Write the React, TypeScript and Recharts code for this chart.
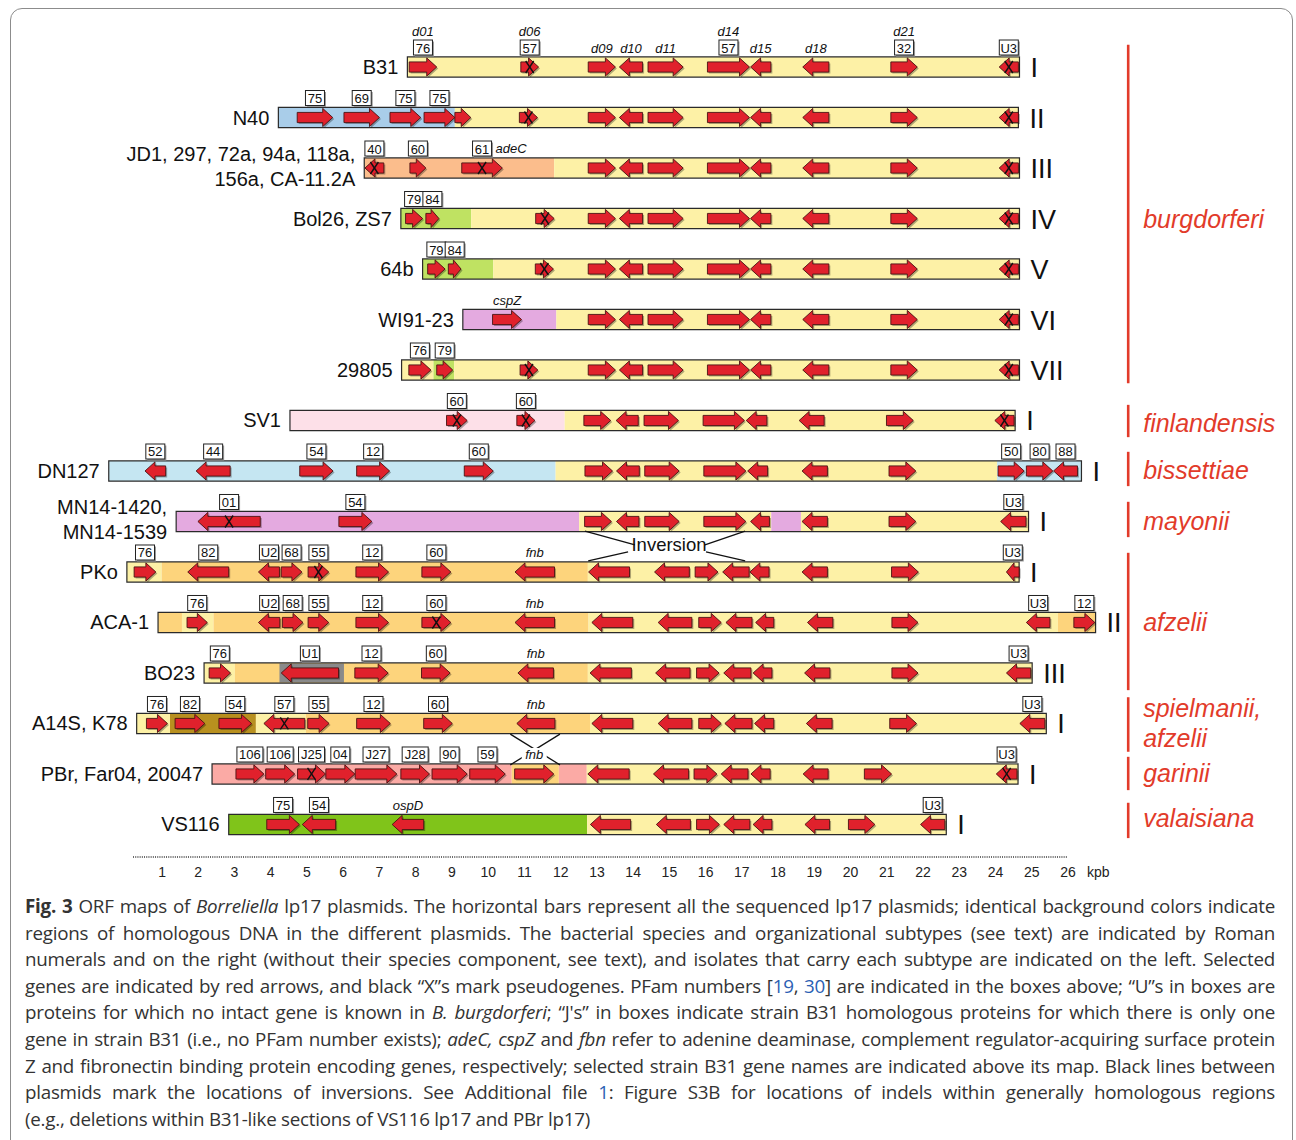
import React from "react";
import { ComposedChart, XAxis, YAxis, ReferenceArea, ReferenceLine, Scatter } from "recharts";

// shared kbp axis, all plasmids aligned on their B31-like region
const X_MIN = -3.471;
const X_MAX = 32.29;
const Y_MIN = -1.327;
const Y_MAX = 15.644;

const FONT = "'Liberation Sans', Arial, sans-serif";
const NARROW = "'Liberation Sans Narrow', 'Liberation Sans', Arial, sans-serif";

const strains = [
  ["B31"],
  ["N40"],
  ["JD1, 297, 72a, 94a, 118a,", "156a, CA-11.2A"],
  ["Bol26, ZS7"],
  ["64b"],
  ["WI91-23"],
  ["29805"],
  ["SV1"],
  ["DN127"],
  ["MN14-1420,", "MN14-1539"],
  ["PKo"],
  ["ACA-1"],
  ["BO23"],
  ["A14S, K78"],
  ["PBr, Far04, 20047"],
  ["VS116"],
];
const subtypes = ["I", "II", "III", "IV", "V", "VI", "VII", "I", "I", "I", "I", "II", "III", "I", "I", "I"];
const plasmidStart = [7.77, 4.21, 6.58, 7.59, 8.19, 9.3, 7.61, 4.53, -0.47, 1.39, 0.03, 0.89, 2.16, 0.3, 2.38, 2.84];
const plasmidEnd = [24.66, 24.63, 24.66, 24.66, 24.66, 24.66, 24.66, 24.54, 26.37, 24.91, 24.65, 26.76, 25.01, 25.4, 24.62, 22.64];

const regionColors: Record<string, string> = {
  b31: "#fdf1a6",
  n40: "#a9cde9",
  jd1: "#fbbd8c",
  bol: "#bfe262",
  wi: "#e4aae0",
  sv1: "#fde0e8",
  dn: "#c5e6f2",
  afz: "#fdd47c",
  gold: "#b8901f",
  pbr: "#fbaaa5",
  vs: "#80c41a",
  grey: "#8a8a8a",
};

// background regions per plasmid: [start, end, region]
const segments: [number, number, string][][] = [
  [[7.77, 24.66, "b31"]],
  [[4.21, 9.08, "n40"], [9.08, 24.63, "b31"]],
  [[6.58, 11.82, "jd1"], [11.82, 24.66, "b31"]],
  [[7.59, 9.53, "bol"], [9.53, 24.66, "b31"]],
  [[8.19, 10.14, "bol"], [10.14, 24.66, "b31"]],
  [[9.3, 11.88, "wi"], [11.88, 24.66, "b31"]],
  [[7.61, 8.49, "b31"], [8.49, 9.06, "bol"], [9.06, 24.66, "b31"]],
  [[4.53, 12.11, "sv1"], [12.11, 24.54, "b31"]],
  [[-0.47, 11.86, "dn"], [11.86, 24.04, "b31"], [24.04, 26.37, "dn"]],
  [[1.39, 12.51, "wi"], [12.51, 17.81, "b31"], [17.81, 18.63, "wi"], [18.63, 24.91, "b31"]],
  [[0.03, 0.99, "b31"], [0.99, 12.75, "afz"], [12.75, 24.65, "b31"]],
  [[0.89, 1.55, "afz"], [1.55, 2.42, "b31"], [2.42, 12.77, "afz"], [12.77, 25.72, "b31"], [25.72, 26.76, "afz"]],
  [[2.16, 3.01, "b31"], [3.01, 12.75, "afz"], [4.24, 6.02, "grey"], [12.75, 25.01, "b31"]],
  [[0.3, 1.22, "b31"], [1.22, 3.59, "gold"], [3.59, 4.97, "b31"], [4.97, 12.81, "afz"], [12.81, 25.4, "b31"]],
  [[2.38, 10.65, "pbr"], [10.65, 11.95, "afz"], [11.95, 12.72, "pbr"], [12.72, 24.62, "b31"]],
  [[2.84, 12.73, "vs"], [12.73, 22.64, "b31"]],
];

// genes: [start, end, strand, PFam box, pseudogene, gene name, name beside box]
type Gene = [number, number, string, string?, boolean?, string?, boolean?];

const burgCore: Gene[] = [
  [12.76, 13.51, "R"], [13.62, 14.26, "L"], [14.41, 15.38, "R"], [16.05, 17.21, "R"],
  [17.24, 17.8, "L"], [18.68, 19.4, "L"], [21.11, 21.84, "R"], [24.1, 24.63, "L", "", true],
];
const genesB31: Gene[] = [
  [7.82, 8.58, "R", "76", false, "d01"], [10.9, 11.39, "R", "57", true, "d06"],
  [12.76, 13.51, "R", "", false, "d09"], [13.62, 14.26, "L", "", false, "d10"],
  [14.41, 15.38, "R", "", false, "d11"], [16.05, 17.21, "R", "57", false, "d14"],
  [17.24, 17.8, "L", "", false, "d15"], [18.68, 19.4, "L", "", false, "d18"],
  [21.11, 21.84, "R", "32", false, "d21"], [24.1, 24.63, "L", "U3", true],
];
const genesN40: Gene[] = [
  [4.73, 5.71, "R", "75"], [6.02, 7.0, "R", "69"], [7.29, 8.14, "R", "75"], [8.23, 9.08, "R", "75"],
  [9.08, 9.52, "R"], [10.86, 11.36, "R", "", true], ...burgCore,
];
const genesJD1: Gene[] = [
  [6.6, 7.12, "L", "40", true], [7.84, 8.28, "R", "60"], [9.27, 10.39, "R", "61", true, "adeC", true], ...burgCore,
];
const genesBol26: Gene[] = [[7.72, 8.19, "R", "79"], [8.28, 8.64, "R", "84"], [11.31, 11.82, "R", "", true], ...burgCore];
const genes64b: Gene[] = [[8.33, 8.81, "R", "79"], [8.9, 9.25, "R", "84"], [11.3, 11.8, "R", "", true], ...burgCore];
const genesWI91: Gene[] = [[10.12, 10.92, "R", "", false, "cspZ"], ...burgCore];
const genes29805: Gene[] = [[7.81, 8.42, "R", "76"], [8.58, 9.02, "R", "79"], [10.88, 11.37, "R", "", true], ...burgCore];
const genesSV1: Gene[] = [
  [8.85, 9.42, "R", "60", true], [10.79, 11.29, "R", "60", true], [12.64, 13.38, "R"], [13.53, 14.14, "L"],
  [14.3, 15.25, "R"], [15.93, 17.07, "R"], [17.12, 17.69, "L"], [18.58, 19.27, "L"], [20.99, 21.73, "R"],
  [23.98, 24.51, "L", "", true],
];
const genesDN127: Gene[] = [
  [0.53, 1.1, "L", "52"], [1.94, 2.88, "L", "44"], [4.8, 5.72, "R", "54"], [6.37, 7.28, "R", "12"],
  [9.34, 10.14, "R", "60"], [12.67, 13.43, "R"], [13.54, 14.17, "L"], [14.32, 15.27, "R"], [15.95, 17.11, "R"],
  [17.16, 17.71, "L"], [18.66, 19.36, "L"], [21.06, 21.8, "R"], [24.07, 24.79, "R", "50"],
  [24.85, 25.58, "R", "80"], [25.6, 26.26, "L", "88"],
];
const genesMN14: Gene[] = [
  [1.99, 3.71, "L", "01", true], [5.88, 6.79, "R", "54"], [12.66, 13.4, "R"], [13.54, 14.16, "L"],
  [14.32, 15.27, "R"], [15.95, 17.11, "R"], [17.24, 17.76, "L"], [18.66, 19.36, "L"], [21.06, 21.8, "R"],
  [24.14, 24.84, "L", "U3"],
];
const genesPKo: Gene[] = [
  [0.23, 0.83, "R", "76"], [1.71, 2.84, "L", "82"], [3.66, 4.24, "L", "U2"], [4.29, 4.86, "R", "68"],
  [5.03, 5.6, "R", "55", true], [6.35, 7.25, "R", "12"], [8.17, 8.97, "R", "60"], [10.74, 11.83, "L", "", false, "fnb"],
  [12.77, 13.9, "L"], [14.59, 15.55, "L"], [15.71, 16.34, "R"], [16.47, 17.2, "L"], [17.22, 17.75, "L"],
  [18.66, 19.36, "L"], [21.13, 21.87, "R"], [24.3, 24.65, "L", "U3"],
];
const genesACA1: Gene[] = [
  [1.69, 2.25, "R", "76"], [3.66, 4.25, "L", "U2"], [4.32, 4.89, "R", "68"], [5.03, 5.6, "R", "55"],
  [6.35, 7.25, "R", "12"], [8.17, 8.97, "R", "60", true], [10.74, 11.83, "L", "", false, "fnb"],
  [12.86, 13.99, "L"], [14.69, 15.62, "L"], [15.81, 16.43, "R"], [16.56, 17.28, "L"], [17.38, 17.88, "L"],
  [18.81, 19.51, "L"], [21.14, 21.86, "R"], [24.85, 25.5, "L", "U3"], [26.16, 26.74, "R", "12"],
];
const genesBO23: Gene[] = [
  [2.3, 2.89, "R", "76"], [4.29, 5.87, "L", "U1"], [6.32, 7.24, "R", "12"], [8.16, 8.95, "R", "60"],
  [10.82, 11.8, "L", "", false, "fnb"], [12.81, 13.95, "L"], [14.62, 15.57, "L"], [15.75, 16.37, "R"],
  [16.5, 17.25, "L"], [17.31, 17.83, "L"], [18.73, 19.43, "L"], [21.14, 21.86, "R"], [24.3, 24.97, "L", "U3"],
];
const genesA14S: Gene[] = [
  [0.57, 1.15, "R", "76"], [1.36, 2.18, "R", "82"], [2.57, 3.47, "R", "54"], [3.81, 4.94, "L", "57", true],
  [5.02, 5.61, "R", "55"], [6.37, 7.3, "R", "12"], [8.22, 9.01, "R", "60"], [10.79, 11.84, "L", "", false, "fnb"],
  [12.86, 13.99, "L"], [14.69, 15.62, "L"], [15.81, 16.43, "R"], [16.53, 17.28, "L"], [17.35, 17.88, "L"],
  [18.78, 19.49, "L"], [21.08, 21.82, "R"], [24.67, 25.36, "L", "U3"],
];
const genesPBr: Gene[] = [
  [3.04, 3.81, "R", "106"], [3.86, 4.66, "R", "106"], [4.74, 5.51, "R", "J25", true], [5.52, 6.32, "R", "04"],
  [6.33, 7.48, "R", "J27"], [7.59, 8.38, "R", "J28"], [8.45, 9.42, "R", "90"], [9.49, 10.47, "R", "59"],
  [10.73, 11.81, "R", "", false, "fnb"], [12.75, 13.89, "L"], [14.56, 15.53, "L"], [15.68, 16.31, "R"],
  [16.43, 17.17, "L"], [17.25, 17.78, "L"], [18.69, 19.38, "L"], [20.38, 21.13, "R"], [24.02, 24.59, "L", "U3", true],
];
const genesVS116: Gene[] = [
  [3.89, 4.79, "R", "75"], [4.87, 5.79, "L", "54"], [7.35, 8.22, "L", "", false, "ospD"], [12.82, 13.93, "L"],
  [14.64, 15.58, "L"], [15.75, 16.38, "R"], [16.5, 17.22, "L"], [17.31, 17.83, "L"], [18.74, 19.42, "L"],
  [19.94, 20.67, "R"], [21.93, 22.6, "L", "U3"],
];

const geneRows = [
  genesB31, genesN40, genesJD1, genesBol26, genes64b, genesWI91, genes29805, genesSV1,
  genesDN127, genesMN14, genesPKo, genesACA1, genesBO23, genesA14S, genesPBr, genesVS116,
];

const species = [["burgdorferi"], ["finlandensis"], ["bissettiae"], ["mayonii"], ["afzelii"], ["spielmanii,", "afzelii"], ["garinii"], ["valaisiana"]];
const speciesSpan = [[-0.44, 6.26], [6.69, 7.33], [7.62, 8.3], [8.61, 9.31], [9.62, 12.34], [12.48, 13.56], [13.66, 14.32], [14.57, 15.27]];
const speciesLabelRow = [3.01, 7.05, 7.98, 8.99, 11.0, 13.0, 13.98, 14.87];
const BRACKET_X = 27.66;

// inversion marks: [x1, y1, x2, y2] in kbp / row units
const inversionLines = [
  [12.67, 9.19, 14.05, 9.465], [17.09, 9.19, 15.98, 9.465],
  [12.76, 9.78, 13.86, 9.6], [17.09, 9.78, 16.01, 9.6],
  [10.61, 13.21, 11.98, 13.82], [11.98, 13.21, 10.61, 13.82],
];
const inversionLabel = { x: 14.99, y: 9.45, text: "Inversion" };

const axisTicks = [1, 2, 3, 4, 5, 6, 7, 8, 9, 10, 11, 12, 13, 14, 15, 16, 17, 18, 19, 20, 21, 22, 23, 24, 25, 26];

const genes = geneRows.flatMap((gs, row) =>
  gs.map(([s, e, d, box, pseudo, name, beside]) => ({ row, s, e, d, box, pseudo, name, beside, x: (s + e) / 2, y: row }))
);
const pseudoPts = genes.filter((g) => g.pseudo);
const boxPts = genes.filter((g) => g.box);
const namePts = genes.filter((g) => g.name);
const strainPts = strains.map((lines, i) => ({ x: plasmidStart[i], y: i, lines }));
const romanPts = subtypes.map((t, i) => ({ x: plasmidEnd[i], y: i, t }));
const speciesPts = species.map((lines, i) => ({ x: BRACKET_X, y: speciesLabelRow[i], lines }));

const arrowShape = (dir: string) => (p: any) => {
  const { x, y, width: w, height: h } = p;
  const cy = y + h / 2;
  const bh = h * 0.28;
  const hd = Math.min(10, w * 0.6);
  const pts =
    dir === "R"
      ? [[x, cy - bh], [x + w - hd, cy - bh], [x + w - hd, y], [x + w, cy], [x + w - hd, y + h], [x + w - hd, cy + bh], [x, cy + bh]]
      : [[x + w, cy - bh], [x + hd, cy - bh], [x + hd, y], [x, cy], [x + hd, y + h], [x + hd, cy + bh], [x + w, cy + bh]];
  return (
    <g>
      <polygon points={pts.map((q) => `${q[0] + 1.5},${q[1] + 1.5}`).join(" ")} fill="#000" opacity={0.3} />
      <polygon points={pts.map((q) => q.join(",")).join(" ")} fill="#e0212c" stroke="#4a1212" strokeWidth={0.9} />
    </g>
  );
};

const PseudoMark = (p: any) => (
  <g stroke="#111" strokeWidth={1.4}>
    <line x1={p.cx - 4} y1={p.cy - 6} x2={p.cx + 4} y2={p.cy + 6} />
    <line x1={p.cx + 4} y1={p.cy - 6} x2={p.cx - 4} y2={p.cy + 6} />
  </g>
);

const boxWidth = (t: string) => t.length * 7 + 5;

const PfamBox = (p: any) => {
  const t = p.payload.box;
  const w = boxWidth(t);
  const cy = p.cy - 20;
  return (
    <g>
      <rect x={p.cx - w / 2 + 1.5} y={cy - 7 + 1.5} width={w} height={15} fill="#999" />
      <rect x={p.cx - w / 2} y={cy - 7} width={w} height={15} fill="#fff" stroke="#222" strokeWidth={1} />
      <text x={p.cx} y={cy + 1} textAnchor="middle" dominantBaseline="central" fontSize={13} fontFamily={NARROW} fill="#111">
        {t}
      </text>
    </g>
  );
};

const GeneName = (p: any) => {
  const { name, box, beside } = p.payload;
  let x = p.cx;
  let y = p.cy - 19;
  let anchor = "middle";
  if (box && beside) {
    x = p.cx + boxWidth(box) / 2 + 4;
    y = p.cy - 20;
    anchor = "start";
  } else if (box) {
    y = p.cy - 36;
  }
  const w = name.length * 7 + 4;
  return (
    <g>
      {!box && <rect x={x - w / 2} y={y - 7} width={w} height={14} fill="#fff" />}
      <text x={x} y={y} textAnchor={anchor} dominantBaseline="central" fontSize={13} fontStyle="italic" fontFamily={FONT} fill="#111">
        {name}
      </text>
    </g>
  );
};

const StrainLabel = (p: any) => {
  const lines = p.payload.lines;
  const offs = lines.length === 1 ? [0] : [-14, 11];
  return (
    <g>
      {lines.map((l: string, i: number) => (
        <text key={i} x={p.cx - 9} y={p.cy + offs[i]} textAnchor="end" dominantBaseline="central" fontSize={20} fontFamily={FONT} fill="#111">
          {l}
        </text>
      ))}
    </g>
  );
};

const RomanLabel = (p: any) => (
  <text x={p.cx + 11} y={p.cy + 1} dominantBaseline="central" fontSize={27} fontFamily={FONT} fill="#111">
    {p.payload.t}
  </text>
);

const SpeciesLabel = (p: any) => {
  const lines = p.payload.lines;
  const offs = lines.length === 1 ? [0] : [-15, 15];
  return (
    <g>
      {lines.map((l: string, i: number) => (
        <text key={i} x={p.cx + 15} y={p.cy + offs[i]} dominantBaseline="central" fontSize={25} fontStyle="italic" fontFamily={FONT} fill="#e23b2a">
          {l}
        </text>
      ))}
    </g>
  );
};

const InversionText = (p: any) => (
  <text x={p.cx} y={p.cy} textAnchor="middle" dominantBaseline="central" fontSize={18.5} fontFamily={FONT} fill="#111">
    {inversionLabel.text}
  </text>
);

const AxisTick = (p: any) => (
  <g>
    <text x={p.x} y={p.y} dy="0.85em" textAnchor="middle" fontSize={14} fontFamily={NARROW} fill="#222">
      {p.payload.value}
    </text>
    {p.payload.value === 26 && (
      <text x={p.x + 19} y={p.y} dy="0.85em" textAnchor="start" fontSize={14} fontFamily={NARROW} fill="#222">
        kpb
      </text>
    )}
  </g>
);

const Caption = () => {
  const line = (last = false): React.CSSProperties => ({
    textAlign: "justify",
    textAlignLast: last ? "left" : "justify",
    whiteSpace: "nowrap",
  });
  const link = { color: "#2b5fb4" };
  return (
    <div
      style={{
        position: "absolute",
        left: 25,
        top: 893,
        width: 1250,
        fontFamily: "'Open Sans', sans-serif",
        fontSize: 18.8,
        letterSpacing: -0.25,
        lineHeight: "26.6px",
        color: "#333",
      }}
    >
      <div style={line()}>
        <b>Fig. 3</b> ORF maps of <i>Borreliella</i> lp17 plasmids. The horizontal bars represent all the sequenced lp17 plasmids; identical background colors indicate
      </div>
      <div style={line()}>
        regions of homologous DNA in the different plasmids. The bacterial species and organizational subtypes (see text) are indicated by Roman
      </div>
      <div style={line()}>
        numerals and on the right (without their species component, see text), and isolates that carry each subtype are indicated on the left. Selected
      </div>
      <div style={line()}>
        genes are indicated by red arrows, and black “X”s mark pseudogenes. PFam numbers [<span style={link}>19</span>, <span style={link}>30</span>] are indicated in the boxes above; “U”s in boxes are
      </div>
      <div style={line()}>
        proteins for which no intact gene is known in <i>B. burgdorferi</i>; “J's” in boxes indicate strain B31 homologous proteins for which there is only one
      </div>
      <div style={line()}>
        gene in strain B31 (i.e., no PFam number exists); <i>adeC, cspZ</i> and <i>fbn</i> refer to adenine deaminase, complement regulator-acquiring surface protein
      </div>
      <div style={line()}>
        Z and fibronectin binding protein encoding genes, respectively; selected strain B31 gene names are indicated above its map. Black lines between
      </div>
      <div style={line()}>
        plasmids mark the locations of inversions. See Additional file <span style={link}>1</span>: Figure S3B for locations of indels within generally homologous regions
      </div>
      <div style={line(true)}>(e.g., deletions within B31-like sections of VS116 lp17 and PBr lp17)</div>
    </div>
  );
};

export default function App() {
  return (
    <div style={{ position: "relative", width: 1296, height: 1140, overflow: "hidden", background: "#fff" }}>
      <style>{"body{margin:0}"}</style>
      <div
        style={{
          position: "absolute",
          left: 10,
          top: 8,
          width: 1281,
          height: 1160,
          border: "1.5px solid #8c8c8c",
          borderRadius: 12,
        }}
      />
      <div style={{ position: "absolute", left: 0, top: 0 }}>
        <ComposedChart width={1296} height={890} margin={{ top: 0, right: 0, bottom: 0, left: 0 }}>
          <XAxis
            dataKey="x"
            type="number"
            domain={[X_MIN, X_MAX]}
            allowDataOverflow
            ticks={axisTicks}
            interval={0}
            axisLine={false}
            tickLine={false}
            height={33}
            tick={<AxisTick />}
          />
          <YAxis dataKey="y" type="number" domain={[Y_MIN, Y_MAX]} allowDataOverflow reversed hide width={0} />

          {segments.flatMap((segs, row) =>
            segs.map(([s, e, r], k) => (
              <ReferenceArea
                key={`seg-${row}-${k}`}
                x1={s}
                x2={e}
                y1={r === "grey" ? row - 0.19 : row - 0.2}
                y2={r === "grey" ? row + 0.19 : row + 0.2}
                fill={regionColors[r]}
                fillOpacity={1}
                stroke="none"
                ifOverflow="visible"
              />
            ))
          )}
          {plasmidStart.map((s, row) => (
            <ReferenceArea
              key={`bar-${row}`}
              x1={s}
              x2={plasmidEnd[row]}
              y1={row - 0.2}
              y2={row + 0.2}
              fill="none"
              fillOpacity={0}
              stroke="#2a2a2a"
              strokeWidth={1.2}
              ifOverflow="visible"
            />
          ))}
          {genes.map((g, i) => (
            <ReferenceArea
              key={`gene-${i}`}
              x1={g.s}
              x2={g.e}
              y1={g.row - 0.18}
              y2={g.row + 0.18}
              ifOverflow="visible"
              shape={arrowShape(g.d)}
            />
          ))}

          {inversionLines.map((l, i) => (
            <ReferenceLine
              key={`inv-${i}`}
              segment={[{ x: l[0], y: l[1] }, { x: l[2], y: l[3] }]}
              stroke="#111"
              strokeWidth={1.3}
              ifOverflow="visible"
            />
          ))}
          {speciesSpan.map((sp, i) => (
            <ReferenceLine
              key={`sp-${i}`}
              segment={[{ x: BRACKET_X, y: sp[0] }, { x: BRACKET_X, y: sp[1] }]}
              stroke="#e23b2a"
              strokeWidth={2.6}
              ifOverflow="visible"
            />
          ))}
          <ReferenceLine
            segment={[{ x: 0.2, y: Y_MAX }, { x: 26.0, y: Y_MAX }]}
            stroke="#333"
            strokeWidth={1.5}
            strokeDasharray="1 1.2"
            ifOverflow="visible"
          />

          <Scatter data={pseudoPts} shape={<PseudoMark />} isAnimationActive={false} />
          <Scatter data={boxPts} shape={<PfamBox />} isAnimationActive={false} />
          <Scatter data={namePts} shape={<GeneName />} isAnimationActive={false} />
          <Scatter data={strainPts} shape={<StrainLabel />} isAnimationActive={false} />
          <Scatter data={romanPts} shape={<RomanLabel />} isAnimationActive={false} />
          <Scatter data={speciesPts} shape={<SpeciesLabel />} isAnimationActive={false} />
          <Scatter data={[inversionLabel]} shape={<InversionText />} isAnimationActive={false} />
        </ComposedChart>
      </div>
      <Caption />
    </div>
  );
}
